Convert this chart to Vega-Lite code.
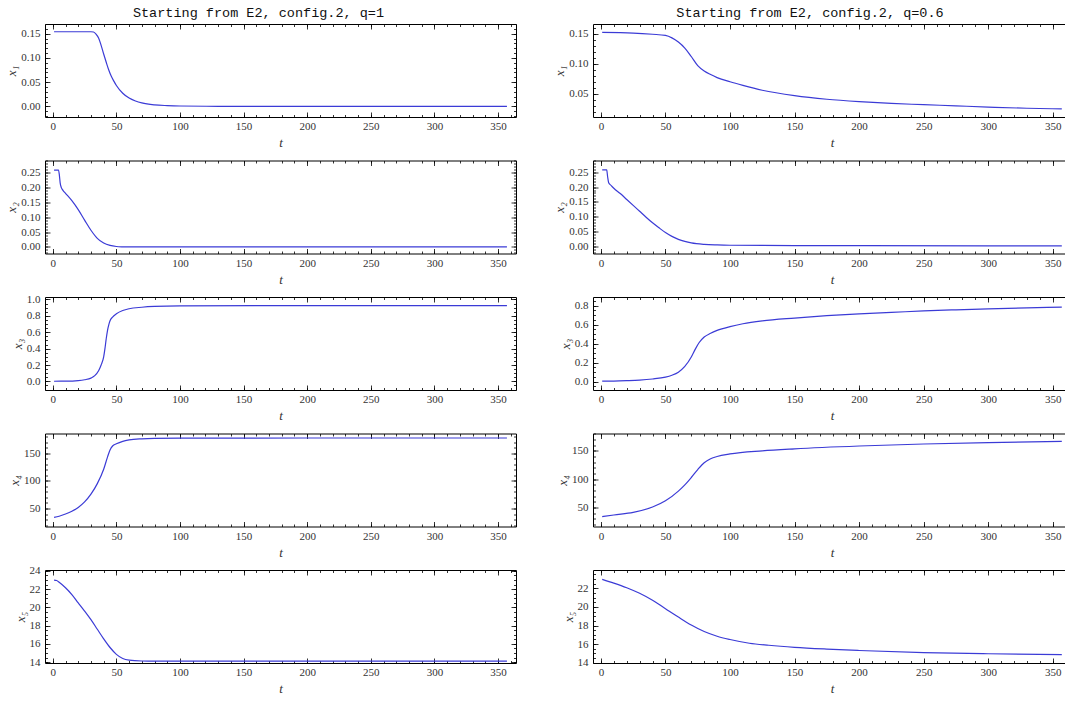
{
"$schema": "https://vega.github.io/schema/vega-lite/v6.json",
"padding": {"left": 5, "top": 5, "right": 0, "bottom": 5},
"background": "white",
"config": {
  "view": {"stroke": "#000", "strokeWidth": 1},
  "axis": {"domain": false, "grid": false, "tickColor": "#000", "tickWidth": 0.8, "tickSize": -5, "labelFont": "Liberation Serif", "labelFontSize": 11, "labelColor": "#333", "labelOverlap": false, "labelFlush": false, "titleFont": "Liberation Serif", "titleFontSize": 13, "titleFontStyle": "italic", "titleFontWeight": "normal", "titleColor": "#333"},
  "axisBottom": {"labelPadding": 8.5, "titlePadding": 5},
  "axisLeft": {"labelPadding": 10, "titlePadding": 2},
  "title": {"font": "Liberation Mono", "fontSize": 13.5, "fontWeight": "normal", "color": "#111", "anchor": "middle", "offset": 4}
},
"datasets": {
  "L1": [{"t":1,"y":0.154},{"t":10,"y":0.154},{"t":20,"y":0.154},{"t":30,"y":0.154},{"t":32,"y":0.1535},{"t":34,"y":0.149},{"t":36,"y":0.141},{"t":38,"y":0.126},{"t":40,"y":0.108},{"t":42,"y":0.091},{"t":44,"y":0.075},{"t":46,"y":0.062},{"t":48,"y":0.052},{"t":50,"y":0.043},{"t":55,"y":0.027},{"t":60,"y":0.017},{"t":65,"y":0.011},{"t":70,"y":0.007},{"t":80,"y":0.003},{"t":90,"y":0.0015},{"t":100,"y":0.0007},{"t":130,"y":0.0001},{"t":200,"y":0},{"t":300,"y":0},{"t":357,"y":0}],
  "L2": [{"t":1,"y":0.258},{"t":4.5,"y":0.258},{"t":5.2,"y":0.24},{"t":5.8,"y":0.215},{"t":6.8,"y":0.198},{"t":8,"y":0.19},{"t":10,"y":0.18},{"t":15,"y":0.155},{"t":20,"y":0.125},{"t":25,"y":0.09},{"t":30,"y":0.056},{"t":35,"y":0.029},{"t":40,"y":0.013},{"t":45,"y":0.005},{"t":50,"y":0.0015},{"t":55,"y":0.0004},{"t":60,"y":0},{"t":100,"y":0},{"t":200,"y":0},{"t":357,"y":0}],
  "L3": [{"t":1,"y":0.002},{"t":10,"y":0.003},{"t":20,"y":0.01},{"t":25,"y":0.02},{"t":30,"y":0.04},{"t":33,"y":0.07},{"t":36,"y":0.13},{"t":38,"y":0.2},{"t":40,"y":0.3},{"t":41,"y":0.4},{"t":42,"y":0.52},{"t":43,"y":0.62},{"t":44,"y":0.69},{"t":45,"y":0.74},{"t":47,"y":0.785},{"t":50,"y":0.825},{"t":55,"y":0.865},{"t":60,"y":0.887},{"t":70,"y":0.905},{"t":80,"y":0.915},{"t":100,"y":0.922},{"t":200,"y":0.925},{"t":357,"y":0.925}],
  "L4": [{"t":1,"y":34},{"t":5,"y":36},{"t":10,"y":40},{"t":15,"y":45},{"t":20,"y":52},{"t":25,"y":62},{"t":30,"y":76},{"t":35,"y":95},{"t":40,"y":121},{"t":43,"y":143},{"t":45,"y":156},{"t":47,"y":163},{"t":50,"y":167},{"t":55,"y":171.5},{"t":60,"y":174},{"t":70,"y":176},{"t":80,"y":176.8},{"t":100,"y":177.2},{"t":200,"y":177.5},{"t":357,"y":177.5}],
  "L5": [{"t":1,"y":23.0},{"t":3,"y":22.95},{"t":5,"y":22.75},{"t":10,"y":22.15},{"t":15,"y":21.4},{"t":20,"y":20.5},{"t":25,"y":19.6},{"t":30,"y":18.65},{"t":35,"y":17.6},{"t":40,"y":16.55},{"t":45,"y":15.6},{"t":50,"y":14.85},{"t":55,"y":14.4},{"t":60,"y":14.22},{"t":70,"y":14.12},{"t":80,"y":14.1},{"t":357,"y":14.1}],
  "R1": [{"t":1,"y":0.152},{"t":25,"y":0.151},{"t":40,"y":0.149},{"t":50,"y":0.147},{"t":55,"y":0.143},{"t":60,"y":0.136},{"t":65,"y":0.126},{"t":70,"y":0.112},{"t":75,"y":0.097},{"t":80,"y":0.088},{"t":85,"y":0.082},{"t":90,"y":0.077},{"t":100,"y":0.07},{"t":110,"y":0.064},{"t":125,"y":0.056},{"t":150,"y":0.047},{"t":175,"y":0.041},{"t":200,"y":0.037},{"t":225,"y":0.034},{"t":250,"y":0.032},{"t":275,"y":0.03},{"t":300,"y":0.028},{"t":330,"y":0.026},{"t":357,"y":0.025}],
  "R2": [{"t":1,"y":0.258},{"t":4.5,"y":0.258},{"t":5.2,"y":0.235},{"t":6,"y":0.215},{"t":8,"y":0.205},{"t":10,"y":0.196},{"t":15,"y":0.178},{"t":20,"y":0.158},{"t":25,"y":0.138},{"t":30,"y":0.118},{"t":35,"y":0.098},{"t":40,"y":0.079},{"t":45,"y":0.062},{"t":50,"y":0.046},{"t":55,"y":0.033},{"t":60,"y":0.023},{"t":65,"y":0.016},{"t":70,"y":0.011},{"t":80,"y":0.006},{"t":90,"y":0.004},{"t":100,"y":0.003},{"t":150,"y":0.002},{"t":200,"y":0.0015},{"t":300,"y":0.001},{"t":357,"y":0.001}],
  "R3": [{"t":1,"y":0.005},{"t":10,"y":0.006},{"t":20,"y":0.01},{"t":30,"y":0.016},{"t":40,"y":0.028},{"t":50,"y":0.048},{"t":55,"y":0.068},{"t":60,"y":0.1},{"t":65,"y":0.16},{"t":70,"y":0.26},{"t":73,"y":0.34},{"t":76,"y":0.41},{"t":80,"y":0.47},{"t":85,"y":0.51},{"t":90,"y":0.54},{"t":100,"y":0.58},{"t":110,"y":0.61},{"t":125,"y":0.64},{"t":150,"y":0.67},{"t":175,"y":0.695},{"t":200,"y":0.715},{"t":225,"y":0.73},{"t":250,"y":0.745},{"t":275,"y":0.757},{"t":300,"y":0.767},{"t":330,"y":0.777},{"t":357,"y":0.785}],
  "R4": [{"t":1,"y":34},{"t":10,"y":37},{"t":25,"y":41.5},{"t":40,"y":51},{"t":50,"y":62},{"t":60,"y":79},{"t":65,"y":90},{"t":70,"y":103},{"t":75,"y":117},{"t":80,"y":129},{"t":85,"y":136},{"t":90,"y":140},{"t":100,"y":144.5},{"t":125,"y":150},{"t":150,"y":153.5},{"t":200,"y":158.5},{"t":250,"y":162},{"t":300,"y":164.5},{"t":357,"y":166.7}],
  "R5": [{"t":1,"y":22.95},{"t":10,"y":22.55},{"t":20,"y":22.05},{"t":30,"y":21.45},{"t":40,"y":20.7},{"t":50,"y":19.8},{"t":60,"y":18.9},{"t":70,"y":18.05},{"t":80,"y":17.35},{"t":90,"y":16.85},{"t":100,"y":16.5},{"t":115,"y":16.1},{"t":130,"y":15.88},{"t":150,"y":15.66},{"t":175,"y":15.47},{"t":200,"y":15.32},{"t":250,"y":15.1},{"t":300,"y":14.97},{"t":357,"y":14.87}]
},
"bounds": "flush",
"columns": 2,
"spacing": {"row": 43.5, "column": 77},
"concat": [
  {"width": 471, "height": 93, "data": {"name": "L1"},
   "title": {"text": "Starting from E2, config.2, q=1", "dx": -22},
   "layer": [
    {"mark": {"type": "line", "color": "#3b3bd6", "strokeWidth": 1.2, "interpolate": "monotone"},
     "encoding": {"x": {"field": "t", "type": "quantitative", "scale": {"domain": [-6.12, 364.12], "nice": false, "zero": false}, "axis": {"orient": "bottom", "values": [0,50,100,150,200,250,300,350], "title": "t"}},
                  "y": {"field": "y", "type": "quantitative", "scale": {"domain": [-0.022, 0.17], "nice": false, "zero": false}, "axis": {"orient": "left", "values": [0,0.05,0.1,0.15], "format": ".2f", "title": "x₁"}}}},
    {"mark": {"type": "line", "opacity": 0},
     "encoding": {"x": {"field": "t", "type": "quantitative", "scale": {"domain": [-6.12, 364.12], "nice": false, "zero": false}, "axis": {"orient": "top", "values": [0,50,100,150,200,250,300,350], "labels": false, "title": null}},
                  "y": {"field": "y", "type": "quantitative", "scale": {"domain": [-0.022, 0.17], "nice": false, "zero": false}, "axis": {"orient": "right", "values": [0,0.05,0.1,0.15], "labels": false, "title": null}}}},
    {"mark": {"type": "line", "opacity": 0},
     "encoding": {"x": {"field": "t", "type": "quantitative", "scale": {"domain": [-6.12, 364.12], "nice": false, "zero": false}, "axis": {"orient": "bottom", "values": [0,10,20,30,40,50,60,70,80,90,100,110,120,130,140,150,160,170,180,190,200,210,220,230,240,250,260,270,280,290,300,310,320,330,340,350,360], "labels": false, "title": null, "tickSize": -2.5}},
                  "y": {"field": "y", "type": "quantitative", "scale": {"domain": [-0.022, 0.17], "nice": false, "zero": false}, "axis": {"orient": "left", "values": [-0.02,-0.01,0,0.01,0.02,0.03,0.04,0.05,0.06,0.07,0.08,0.09,0.1,0.11,0.12,0.13,0.14,0.15,0.16,0.17], "labels": false, "title": null, "tickSize": -2.5}}}},
    {"mark": {"type": "line", "opacity": 0},
     "encoding": {"x": {"field": "t", "type": "quantitative", "scale": {"domain": [-6.12, 364.12], "nice": false, "zero": false}, "axis": {"orient": "top", "values": [0,10,20,30,40,50,60,70,80,90,100,110,120,130,140,150,160,170,180,190,200,210,220,230,240,250,260,270,280,290,300,310,320,330,340,350,360], "labels": false, "title": null, "tickSize": -2.5}},
                  "y": {"field": "y", "type": "quantitative", "scale": {"domain": [-0.022, 0.17], "nice": false, "zero": false}, "axis": {"orient": "right", "values": [-0.02,-0.01,0,0.01,0.02,0.03,0.04,0.05,0.06,0.07,0.08,0.09,0.1,0.11,0.12,0.13,0.14,0.15,0.16,0.17], "labels": false, "title": null, "tickSize": -2.5}}}}
   ],
   "resolve": {"axis": {"x": "independent", "y": "independent"}}},
  {"width": 478, "height": 93, "data": {"name": "R1"},
   "title": {"text": "Starting from E2, config.2, q=0.6", "dx": -22},
   "layer": [
    {"mark": {"type": "line", "color": "#3b3bd6", "strokeWidth": 1.2, "interpolate": "monotone"},
     "encoding": {"x": {"field": "t", "type": "quantitative", "scale": {"domain": [-6.12, 364.12], "nice": false, "zero": false}, "axis": {"orient": "bottom", "values": [0,50,100,150,200,250,300,350], "title": "t"}},
                  "y": {"field": "y", "type": "quantitative", "scale": {"domain": [0.0115, 0.166], "nice": false, "zero": false}, "axis": {"orient": "left", "values": [0.05,0.1,0.15], "format": ".2f", "title": "x₁"}}}},
    {"mark": {"type": "line", "opacity": 0},
     "encoding": {"x": {"field": "t", "type": "quantitative", "scale": {"domain": [-6.12, 364.12], "nice": false, "zero": false}, "axis": {"orient": "top", "values": [0,50,100,150,200,250,300,350], "labels": false, "title": null}},
                  "y": {"field": "y", "type": "quantitative", "scale": {"domain": [0.0115, 0.166], "nice": false, "zero": false}, "axis": {"orient": "right", "values": [0.05,0.1,0.15], "labels": false, "title": null}}}},
    {"mark": {"type": "line", "opacity": 0},
     "encoding": {"x": {"field": "t", "type": "quantitative", "scale": {"domain": [-6.12, 364.12], "nice": false, "zero": false}, "axis": {"orient": "bottom", "values": [0,10,20,30,40,50,60,70,80,90,100,110,120,130,140,150,160,170,180,190,200,210,220,230,240,250,260,270,280,290,300,310,320,330,340,350,360], "labels": false, "title": null, "tickSize": -2.5}},
                  "y": {"field": "y", "type": "quantitative", "scale": {"domain": [0.0115, 0.166], "nice": false, "zero": false}, "axis": {"orient": "left", "values": [0.02,0.03,0.04,0.05,0.06,0.07,0.08,0.09,0.1,0.11,0.12,0.13,0.14,0.15,0.16], "labels": false, "title": null, "tickSize": -2.5}}}},
    {"mark": {"type": "line", "opacity": 0},
     "encoding": {"x": {"field": "t", "type": "quantitative", "scale": {"domain": [-6.12, 364.12], "nice": false, "zero": false}, "axis": {"orient": "top", "values": [0,10,20,30,40,50,60,70,80,90,100,110,120,130,140,150,160,170,180,190,200,210,220,230,240,250,260,270,280,290,300,310,320,330,340,350,360], "labels": false, "title": null, "tickSize": -2.5}},
                  "y": {"field": "y", "type": "quantitative", "scale": {"domain": [0.0115, 0.166], "nice": false, "zero": false}, "axis": {"orient": "right", "values": [0.02,0.03,0.04,0.05,0.06,0.07,0.08,0.09,0.1,0.11,0.12,0.13,0.14,0.15,0.16], "labels": false, "title": null, "tickSize": -2.5}}}}
   ],
   "resolve": {"axis": {"x": "independent", "y": "independent"}}},
  {"width": 471, "height": 93, "data": {"name": "L2"},
   "layer": [
    {"mark": {"type": "line", "color": "#3b3bd6", "strokeWidth": 1.2, "interpolate": "monotone"},
     "encoding": {"x": {"field": "t", "type": "quantitative", "scale": {"domain": [-6.12, 364.12], "nice": false, "zero": false}, "axis": {"orient": "bottom", "values": [0,50,100,150,200,250,300,350], "title": "t"}},
                  "y": {"field": "y", "type": "quantitative", "scale": {"domain": [-0.022, 0.29], "nice": false, "zero": false}, "axis": {"orient": "left", "values": [0,0.05,0.1,0.15,0.2,0.25], "format": ".2f", "title": "x₂"}}}},
    {"mark": {"type": "line", "opacity": 0},
     "encoding": {"x": {"field": "t", "type": "quantitative", "scale": {"domain": [-6.12, 364.12], "nice": false, "zero": false}, "axis": {"orient": "top", "values": [0,50,100,150,200,250,300,350], "labels": false, "title": null}},
                  "y": {"field": "y", "type": "quantitative", "scale": {"domain": [-0.022, 0.29], "nice": false, "zero": false}, "axis": {"orient": "right", "values": [0,0.05,0.1,0.15,0.2,0.25], "labels": false, "title": null}}}},
    {"mark": {"type": "line", "opacity": 0},
     "encoding": {"x": {"field": "t", "type": "quantitative", "scale": {"domain": [-6.12, 364.12], "nice": false, "zero": false}, "axis": {"orient": "bottom", "values": [0,10,20,30,40,50,60,70,80,90,100,110,120,130,140,150,160,170,180,190,200,210,220,230,240,250,260,270,280,290,300,310,320,330,340,350,360], "labels": false, "title": null, "tickSize": -2.5}},
                  "y": {"field": "y", "type": "quantitative", "scale": {"domain": [-0.022, 0.29], "nice": false, "zero": false}, "axis": {"orient": "left", "values": [-0.02,-0.01,0,0.01,0.02,0.03,0.04,0.05,0.06,0.07,0.08,0.09,0.1,0.11,0.12,0.13,0.14,0.15,0.16,0.17,0.18,0.19,0.2,0.21,0.22,0.23,0.24,0.25,0.26,0.27,0.28,0.29], "labels": false, "title": null, "tickSize": -2.5}}}},
    {"mark": {"type": "line", "opacity": 0},
     "encoding": {"x": {"field": "t", "type": "quantitative", "scale": {"domain": [-6.12, 364.12], "nice": false, "zero": false}, "axis": {"orient": "top", "values": [0,10,20,30,40,50,60,70,80,90,100,110,120,130,140,150,160,170,180,190,200,210,220,230,240,250,260,270,280,290,300,310,320,330,340,350,360], "labels": false, "title": null, "tickSize": -2.5}},
                  "y": {"field": "y", "type": "quantitative", "scale": {"domain": [-0.022, 0.29], "nice": false, "zero": false}, "axis": {"orient": "right", "values": [-0.02,-0.01,0,0.01,0.02,0.03,0.04,0.05,0.06,0.07,0.08,0.09,0.1,0.11,0.12,0.13,0.14,0.15,0.16,0.17,0.18,0.19,0.2,0.21,0.22,0.23,0.24,0.25,0.26,0.27,0.28,0.29], "labels": false, "title": null, "tickSize": -2.5}}}}
   ],
   "resolve": {"axis": {"x": "independent", "y": "independent"}}},
  {"width": 478, "height": 93, "data": {"name": "R2"},
   "layer": [
    {"mark": {"type": "line", "color": "#3b3bd6", "strokeWidth": 1.2, "interpolate": "monotone"},
     "encoding": {"x": {"field": "t", "type": "quantitative", "scale": {"domain": [-6.12, 364.12], "nice": false, "zero": false}, "axis": {"orient": "bottom", "values": [0,50,100,150,200,250,300,350], "title": "t"}},
                  "y": {"field": "y", "type": "quantitative", "scale": {"domain": [-0.025, 0.29], "nice": false, "zero": false}, "axis": {"orient": "left", "values": [0,0.05,0.1,0.15,0.2,0.25], "format": ".2f", "title": "x₂"}}}},
    {"mark": {"type": "line", "opacity": 0},
     "encoding": {"x": {"field": "t", "type": "quantitative", "scale": {"domain": [-6.12, 364.12], "nice": false, "zero": false}, "axis": {"orient": "top", "values": [0,50,100,150,200,250,300,350], "labels": false, "title": null}},
                  "y": {"field": "y", "type": "quantitative", "scale": {"domain": [-0.025, 0.29], "nice": false, "zero": false}, "axis": {"orient": "right", "values": [0,0.05,0.1,0.15,0.2,0.25], "labels": false, "title": null}}}},
    {"mark": {"type": "line", "opacity": 0},
     "encoding": {"x": {"field": "t", "type": "quantitative", "scale": {"domain": [-6.12, 364.12], "nice": false, "zero": false}, "axis": {"orient": "bottom", "values": [0,10,20,30,40,50,60,70,80,90,100,110,120,130,140,150,160,170,180,190,200,210,220,230,240,250,260,270,280,290,300,310,320,330,340,350,360], "labels": false, "title": null, "tickSize": -2.5}},
                  "y": {"field": "y", "type": "quantitative", "scale": {"domain": [-0.025, 0.29], "nice": false, "zero": false}, "axis": {"orient": "left", "values": [-0.02,-0.01,0,0.01,0.02,0.03,0.04,0.05,0.06,0.07,0.08,0.09,0.1,0.11,0.12,0.13,0.14,0.15,0.16,0.17,0.18,0.19,0.2,0.21,0.22,0.23,0.24,0.25,0.26,0.27,0.28,0.29], "labels": false, "title": null, "tickSize": -2.5}}}},
    {"mark": {"type": "line", "opacity": 0},
     "encoding": {"x": {"field": "t", "type": "quantitative", "scale": {"domain": [-6.12, 364.12], "nice": false, "zero": false}, "axis": {"orient": "top", "values": [0,10,20,30,40,50,60,70,80,90,100,110,120,130,140,150,160,170,180,190,200,210,220,230,240,250,260,270,280,290,300,310,320,330,340,350,360], "labels": false, "title": null, "tickSize": -2.5}},
                  "y": {"field": "y", "type": "quantitative", "scale": {"domain": [-0.025, 0.29], "nice": false, "zero": false}, "axis": {"orient": "right", "values": [-0.02,-0.01,0,0.01,0.02,0.03,0.04,0.05,0.06,0.07,0.08,0.09,0.1,0.11,0.12,0.13,0.14,0.15,0.16,0.17,0.18,0.19,0.2,0.21,0.22,0.23,0.24,0.25,0.26,0.27,0.28,0.29], "labels": false, "title": null, "tickSize": -2.5}}}}
   ],
   "resolve": {"axis": {"x": "independent", "y": "independent"}}},
  {"width": 471, "height": 93, "data": {"name": "L3"},
   "layer": [
    {"mark": {"type": "line", "color": "#3b3bd6", "strokeWidth": 1.2, "interpolate": "monotone"},
     "encoding": {"x": {"field": "t", "type": "quantitative", "scale": {"domain": [-6.12, 364.12], "nice": false, "zero": false}, "axis": {"orient": "bottom", "values": [0,50,100,150,200,250,300,350], "title": "t"}},
                  "y": {"field": "y", "type": "quantitative", "scale": {"domain": [-0.105, 1.03], "nice": false, "zero": false}, "axis": {"orient": "left", "values": [0,0.2,0.4,0.6,0.8,1.0], "format": ".1f", "title": "x₃"}}}},
    {"mark": {"type": "line", "opacity": 0},
     "encoding": {"x": {"field": "t", "type": "quantitative", "scale": {"domain": [-6.12, 364.12], "nice": false, "zero": false}, "axis": {"orient": "top", "values": [0,50,100,150,200,250,300,350], "labels": false, "title": null}},
                  "y": {"field": "y", "type": "quantitative", "scale": {"domain": [-0.105, 1.03], "nice": false, "zero": false}, "axis": {"orient": "right", "values": [0,0.2,0.4,0.6,0.8,1.0], "labels": false, "title": null}}}},
    {"mark": {"type": "line", "opacity": 0},
     "encoding": {"x": {"field": "t", "type": "quantitative", "scale": {"domain": [-6.12, 364.12], "nice": false, "zero": false}, "axis": {"orient": "bottom", "values": [0,10,20,30,40,50,60,70,80,90,100,110,120,130,140,150,160,170,180,190,200,210,220,230,240,250,260,270,280,290,300,310,320,330,340,350,360], "labels": false, "title": null, "tickSize": -2.5}},
                  "y": {"field": "y", "type": "quantitative", "scale": {"domain": [-0.105, 1.03], "nice": false, "zero": false}, "axis": {"orient": "left", "values": [-0.1,-0.05,0,0.05,0.1,0.15,0.2,0.25,0.3,0.35,0.4,0.45,0.5,0.55,0.6,0.65,0.7,0.75,0.8,0.85,0.9,0.95,1.0], "labels": false, "title": null, "tickSize": -2.5}}}},
    {"mark": {"type": "line", "opacity": 0},
     "encoding": {"x": {"field": "t", "type": "quantitative", "scale": {"domain": [-6.12, 364.12], "nice": false, "zero": false}, "axis": {"orient": "top", "values": [0,10,20,30,40,50,60,70,80,90,100,110,120,130,140,150,160,170,180,190,200,210,220,230,240,250,260,270,280,290,300,310,320,330,340,350,360], "labels": false, "title": null, "tickSize": -2.5}},
                  "y": {"field": "y", "type": "quantitative", "scale": {"domain": [-0.105, 1.03], "nice": false, "zero": false}, "axis": {"orient": "right", "values": [-0.1,-0.05,0,0.05,0.1,0.15,0.2,0.25,0.3,0.35,0.4,0.45,0.5,0.55,0.6,0.65,0.7,0.75,0.8,0.85,0.9,0.95,1.0], "labels": false, "title": null, "tickSize": -2.5}}}}
   ],
   "resolve": {"axis": {"x": "independent", "y": "independent"}}},
  {"width": 478, "height": 93, "data": {"name": "R3"},
   "layer": [
    {"mark": {"type": "line", "color": "#3b3bd6", "strokeWidth": 1.2, "interpolate": "monotone"},
     "encoding": {"x": {"field": "t", "type": "quantitative", "scale": {"domain": [-6.12, 364.12], "nice": false, "zero": false}, "axis": {"orient": "bottom", "values": [0,50,100,150,200,250,300,350], "title": "t"}},
                  "y": {"field": "y", "type": "quantitative", "scale": {"domain": [-0.088, 0.892], "nice": false, "zero": false}, "axis": {"orient": "left", "values": [0,0.2,0.4,0.6,0.8], "format": ".1f", "title": "x₃"}}}},
    {"mark": {"type": "line", "opacity": 0},
     "encoding": {"x": {"field": "t", "type": "quantitative", "scale": {"domain": [-6.12, 364.12], "nice": false, "zero": false}, "axis": {"orient": "top", "values": [0,50,100,150,200,250,300,350], "labels": false, "title": null}},
                  "y": {"field": "y", "type": "quantitative", "scale": {"domain": [-0.088, 0.892], "nice": false, "zero": false}, "axis": {"orient": "right", "values": [0,0.2,0.4,0.6,0.8], "labels": false, "title": null}}}},
    {"mark": {"type": "line", "opacity": 0},
     "encoding": {"x": {"field": "t", "type": "quantitative", "scale": {"domain": [-6.12, 364.12], "nice": false, "zero": false}, "axis": {"orient": "bottom", "values": [0,10,20,30,40,50,60,70,80,90,100,110,120,130,140,150,160,170,180,190,200,210,220,230,240,250,260,270,280,290,300,310,320,330,340,350,360], "labels": false, "title": null, "tickSize": -2.5}},
                  "y": {"field": "y", "type": "quantitative", "scale": {"domain": [-0.088, 0.892], "nice": false, "zero": false}, "axis": {"orient": "left", "values": [-0.05,0,0.05,0.1,0.15,0.2,0.25,0.3,0.35,0.4,0.45,0.5,0.55,0.6,0.65,0.7,0.75,0.8,0.85], "labels": false, "title": null, "tickSize": -2.5}}}},
    {"mark": {"type": "line", "opacity": 0},
     "encoding": {"x": {"field": "t", "type": "quantitative", "scale": {"domain": [-6.12, 364.12], "nice": false, "zero": false}, "axis": {"orient": "top", "values": [0,10,20,30,40,50,60,70,80,90,100,110,120,130,140,150,160,170,180,190,200,210,220,230,240,250,260,270,280,290,300,310,320,330,340,350,360], "labels": false, "title": null, "tickSize": -2.5}},
                  "y": {"field": "y", "type": "quantitative", "scale": {"domain": [-0.088, 0.892], "nice": false, "zero": false}, "axis": {"orient": "right", "values": [-0.05,0,0.05,0.1,0.15,0.2,0.25,0.3,0.35,0.4,0.45,0.5,0.55,0.6,0.65,0.7,0.75,0.8,0.85], "labels": false, "title": null, "tickSize": -2.5}}}}
   ],
   "resolve": {"axis": {"x": "independent", "y": "independent"}}},
  {"width": 471, "height": 93, "data": {"name": "L4"},
   "layer": [
    {"mark": {"type": "line", "color": "#3b3bd6", "strokeWidth": 1.2, "interpolate": "monotone"},
     "encoding": {"x": {"field": "t", "type": "quantitative", "scale": {"domain": [-6.12, 364.12], "nice": false, "zero": false}, "axis": {"orient": "bottom", "values": [0,50,100,150,200,250,300,350], "title": "t"}},
                  "y": {"field": "y", "type": "quantitative", "scale": {"domain": [17.5, 185.6], "nice": false, "zero": false}, "axis": {"orient": "left", "values": [50,100,150], "format": "d", "title": "x₄"}}}},
    {"mark": {"type": "line", "opacity": 0},
     "encoding": {"x": {"field": "t", "type": "quantitative", "scale": {"domain": [-6.12, 364.12], "nice": false, "zero": false}, "axis": {"orient": "top", "values": [0,50,100,150,200,250,300,350], "labels": false, "title": null}},
                  "y": {"field": "y", "type": "quantitative", "scale": {"domain": [17.5, 185.6], "nice": false, "zero": false}, "axis": {"orient": "right", "values": [50,100,150], "labels": false, "title": null}}}},
    {"mark": {"type": "line", "opacity": 0},
     "encoding": {"x": {"field": "t", "type": "quantitative", "scale": {"domain": [-6.12, 364.12], "nice": false, "zero": false}, "axis": {"orient": "bottom", "values": [0,10,20,30,40,50,60,70,80,90,100,110,120,130,140,150,160,170,180,190,200,210,220,230,240,250,260,270,280,290,300,310,320,330,340,350,360], "labels": false, "title": null, "tickSize": -2.5}},
                  "y": {"field": "y", "type": "quantitative", "scale": {"domain": [17.5, 185.6], "nice": false, "zero": false}, "axis": {"orient": "left", "values": [20,30,40,50,60,70,80,90,100,110,120,130,140,150,160,170,180], "labels": false, "title": null, "tickSize": -2.5}}}},
    {"mark": {"type": "line", "opacity": 0},
     "encoding": {"x": {"field": "t", "type": "quantitative", "scale": {"domain": [-6.12, 364.12], "nice": false, "zero": false}, "axis": {"orient": "top", "values": [0,10,20,30,40,50,60,70,80,90,100,110,120,130,140,150,160,170,180,190,200,210,220,230,240,250,260,270,280,290,300,310,320,330,340,350,360], "labels": false, "title": null, "tickSize": -2.5}},
                  "y": {"field": "y", "type": "quantitative", "scale": {"domain": [17.5, 185.6], "nice": false, "zero": false}, "axis": {"orient": "right", "values": [20,30,40,50,60,70,80,90,100,110,120,130,140,150,160,170,180], "labels": false, "title": null, "tickSize": -2.5}}}}
   ],
   "resolve": {"axis": {"x": "independent", "y": "independent"}}},
  {"width": 478, "height": 93, "data": {"name": "R4"},
   "layer": [
    {"mark": {"type": "line", "color": "#3b3bd6", "strokeWidth": 1.2, "interpolate": "monotone"},
     "encoding": {"x": {"field": "t", "type": "quantitative", "scale": {"domain": [-6.12, 364.12], "nice": false, "zero": false}, "axis": {"orient": "bottom", "values": [0,50,100,150,200,250,300,350], "title": "t"}},
                  "y": {"field": "y", "type": "quantitative", "scale": {"domain": [16.7, 180.5], "nice": false, "zero": false}, "axis": {"orient": "left", "values": [50,100,150], "format": "d", "title": "x₄"}}}},
    {"mark": {"type": "line", "opacity": 0},
     "encoding": {"x": {"field": "t", "type": "quantitative", "scale": {"domain": [-6.12, 364.12], "nice": false, "zero": false}, "axis": {"orient": "top", "values": [0,50,100,150,200,250,300,350], "labels": false, "title": null}},
                  "y": {"field": "y", "type": "quantitative", "scale": {"domain": [16.7, 180.5], "nice": false, "zero": false}, "axis": {"orient": "right", "values": [50,100,150], "labels": false, "title": null}}}},
    {"mark": {"type": "line", "opacity": 0},
     "encoding": {"x": {"field": "t", "type": "quantitative", "scale": {"domain": [-6.12, 364.12], "nice": false, "zero": false}, "axis": {"orient": "bottom", "values": [0,10,20,30,40,50,60,70,80,90,100,110,120,130,140,150,160,170,180,190,200,210,220,230,240,250,260,270,280,290,300,310,320,330,340,350,360], "labels": false, "title": null, "tickSize": -2.5}},
                  "y": {"field": "y", "type": "quantitative", "scale": {"domain": [16.7, 180.5], "nice": false, "zero": false}, "axis": {"orient": "left", "values": [20,30,40,50,60,70,80,90,100,110,120,130,140,150,160,170,180], "labels": false, "title": null, "tickSize": -2.5}}}},
    {"mark": {"type": "line", "opacity": 0},
     "encoding": {"x": {"field": "t", "type": "quantitative", "scale": {"domain": [-6.12, 364.12], "nice": false, "zero": false}, "axis": {"orient": "top", "values": [0,10,20,30,40,50,60,70,80,90,100,110,120,130,140,150,160,170,180,190,200,210,220,230,240,250,260,270,280,290,300,310,320,330,340,350,360], "labels": false, "title": null, "tickSize": -2.5}},
                  "y": {"field": "y", "type": "quantitative", "scale": {"domain": [16.7, 180.5], "nice": false, "zero": false}, "axis": {"orient": "right", "values": [20,30,40,50,60,70,80,90,100,110,120,130,140,150,160,170,180], "labels": false, "title": null, "tickSize": -2.5}}}}
   ],
   "resolve": {"axis": {"x": "independent", "y": "independent"}}},
  {"width": 471, "height": 93, "data": {"name": "L5"},
   "layer": [
    {"mark": {"type": "line", "color": "#3b3bd6", "strokeWidth": 1.2, "interpolate": "monotone"},
     "encoding": {"x": {"field": "t", "type": "quantitative", "scale": {"domain": [-6.12, 364.12], "nice": false, "zero": false}, "axis": {"orient": "bottom", "values": [0,50,100,150,200,250,300,350], "title": "t"}},
                  "y": {"field": "y", "type": "quantitative", "scale": {"domain": [13.9, 24.1], "nice": false, "zero": false}, "axis": {"orient": "left", "values": [14,16,18,20,22,24], "format": "d", "title": "x₅"}}}},
    {"mark": {"type": "line", "opacity": 0},
     "encoding": {"x": {"field": "t", "type": "quantitative", "scale": {"domain": [-6.12, 364.12], "nice": false, "zero": false}, "axis": {"orient": "top", "values": [0,50,100,150,200,250,300,350], "labels": false, "title": null}},
                  "y": {"field": "y", "type": "quantitative", "scale": {"domain": [13.9, 24.1], "nice": false, "zero": false}, "axis": {"orient": "right", "values": [14,16,18,20,22,24], "labels": false, "title": null}}}},
    {"mark": {"type": "line", "opacity": 0},
     "encoding": {"x": {"field": "t", "type": "quantitative", "scale": {"domain": [-6.12, 364.12], "nice": false, "zero": false}, "axis": {"orient": "bottom", "values": [0,10,20,30,40,50,60,70,80,90,100,110,120,130,140,150,160,170,180,190,200,210,220,230,240,250,260,270,280,290,300,310,320,330,340,350,360], "labels": false, "title": null, "tickSize": -2.5}},
                  "y": {"field": "y", "type": "quantitative", "scale": {"domain": [13.9, 24.1], "nice": false, "zero": false}, "axis": {"orient": "left", "values": [14,14.5,15,15.5,16,16.5,17,17.5,18,18.5,19,19.5,20,20.5,21,21.5,22,22.5,23,23.5,24], "labels": false, "title": null, "tickSize": -2.5}}}},
    {"mark": {"type": "line", "opacity": 0},
     "encoding": {"x": {"field": "t", "type": "quantitative", "scale": {"domain": [-6.12, 364.12], "nice": false, "zero": false}, "axis": {"orient": "top", "values": [0,10,20,30,40,50,60,70,80,90,100,110,120,130,140,150,160,170,180,190,200,210,220,230,240,250,260,270,280,290,300,310,320,330,340,350,360], "labels": false, "title": null, "tickSize": -2.5}},
                  "y": {"field": "y", "type": "quantitative", "scale": {"domain": [13.9, 24.1], "nice": false, "zero": false}, "axis": {"orient": "right", "values": [14,14.5,15,15.5,16,16.5,17,17.5,18,18.5,19,19.5,20,20.5,21,21.5,22,22.5,23,23.5,24], "labels": false, "title": null, "tickSize": -2.5}}}}
   ],
   "resolve": {"axis": {"x": "independent", "y": "independent"}}},
  {"width": 478, "height": 93, "data": {"name": "R5"},
   "layer": [
    {"mark": {"type": "line", "color": "#3b3bd6", "strokeWidth": 1.2, "interpolate": "monotone"},
     "encoding": {"x": {"field": "t", "type": "quantitative", "scale": {"domain": [-6.12, 364.12], "nice": false, "zero": false}, "axis": {"orient": "bottom", "values": [0,50,100,150,200,250,300,350], "title": "t"}},
                  "y": {"field": "y", "type": "quantitative", "scale": {"domain": [13.98, 23.95], "nice": false, "zero": false}, "axis": {"orient": "left", "values": [14,16,18,20,22], "format": "d", "title": "x₅"}}}},
    {"mark": {"type": "line", "opacity": 0},
     "encoding": {"x": {"field": "t", "type": "quantitative", "scale": {"domain": [-6.12, 364.12], "nice": false, "zero": false}, "axis": {"orient": "top", "values": [0,50,100,150,200,250,300,350], "labels": false, "title": null}},
                  "y": {"field": "y", "type": "quantitative", "scale": {"domain": [13.98, 23.95], "nice": false, "zero": false}, "axis": {"orient": "right", "values": [14,16,18,20,22], "labels": false, "title": null}}}},
    {"mark": {"type": "line", "opacity": 0},
     "encoding": {"x": {"field": "t", "type": "quantitative", "scale": {"domain": [-6.12, 364.12], "nice": false, "zero": false}, "axis": {"orient": "bottom", "values": [0,10,20,30,40,50,60,70,80,90,100,110,120,130,140,150,160,170,180,190,200,210,220,230,240,250,260,270,280,290,300,310,320,330,340,350,360], "labels": false, "title": null, "tickSize": -2.5}},
                  "y": {"field": "y", "type": "quantitative", "scale": {"domain": [13.98, 23.95], "nice": false, "zero": false}, "axis": {"orient": "left", "values": [14,14.5,15,15.5,16,16.5,17,17.5,18,18.5,19,19.5,20,20.5,21,21.5,22,22.5,23,23.5], "labels": false, "title": null, "tickSize": -2.5}}}},
    {"mark": {"type": "line", "opacity": 0},
     "encoding": {"x": {"field": "t", "type": "quantitative", "scale": {"domain": [-6.12, 364.12], "nice": false, "zero": false}, "axis": {"orient": "top", "values": [0,10,20,30,40,50,60,70,80,90,100,110,120,130,140,150,160,170,180,190,200,210,220,230,240,250,260,270,280,290,300,310,320,330,340,350,360], "labels": false, "title": null, "tickSize": -2.5}},
                  "y": {"field": "y", "type": "quantitative", "scale": {"domain": [13.98, 23.95], "nice": false, "zero": false}, "axis": {"orient": "right", "values": [14,14.5,15,15.5,16,16.5,17,17.5,18,18.5,19,19.5,20,20.5,21,21.5,22,22.5,23,23.5], "labels": false, "title": null, "tickSize": -2.5}}}}
   ],
   "resolve": {"axis": {"x": "independent", "y": "independent"}}}
]
}
